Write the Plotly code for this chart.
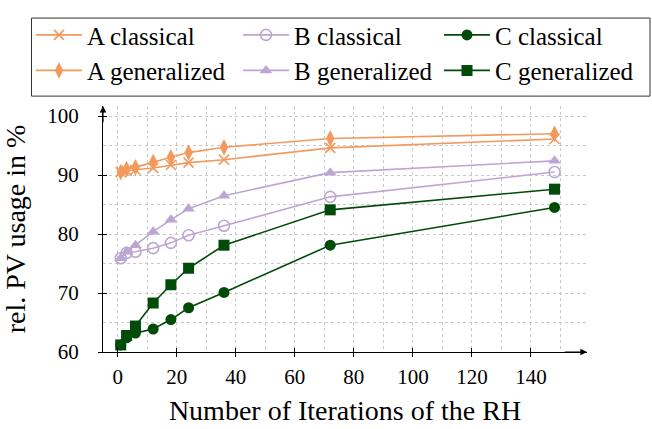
import plotly.graph_objects as go

# Receding-horizon iteration counts
iterations = [1, 3, 6, 12, 18, 24, 36, 72, 148]

# Relative PV usage in % per scenario and method
a_classical = [90.5, 90.7, 90.9, 91.2, 91.7, 92.1, 92.6, 94.6, 96.1]
a_generalized = [90.5, 91.0, 91.3, 92.2, 93.0, 93.8, 94.7, 96.2, 97.0]
b_classical = [75.9, 76.8, 77.0, 77.6, 78.5, 79.8, 81.4, 86.3, 90.5]
b_generalized = [75.9, 77.0, 78.1, 80.4, 82.4, 84.3, 86.5, 90.4, 92.4]
c_classical = [61.2, 62.4, 63.2, 63.9, 65.5, 67.5, 70.1, 78.1, 84.5]
c_generalized = [61.2, 62.8, 64.4, 68.3, 71.4, 74.2, 78.1, 84.1, 87.6]

x_ticks = [0, 20, 40, 60, 80, 100, 120, 140]
y_ticks = [60, 70, 80, 90, 100]

ORANGE = "#F29A5E"
PURPLE = "#BDA6D1"
GREEN = "#004B08"
FONT = "Liberation Serif"

W, H = 652, 429
M_L, M_R, M_T, M_B = 103, 65, 103, 77
PLOT_W, PLOT_H = W - M_L - M_R, H - M_T - M_B

# one legend column per scenario: (name, values, colour, marker, legend id)
series = [
    ("A classical", a_classical, ORANGE, dict(symbol="x-thin-open", size=10, line=dict(width=1.6, color=ORANGE)), "legend"),
    ("A generalized", a_generalized, ORANGE, dict(symbol="diamond-tall", size=12, color=ORANGE), "legend"),
    ("B classical", b_classical, PURPLE, dict(symbol="circle-open", size=11, line=dict(width=1.6, color=PURPLE)), "legend2"),
    ("B generalized", b_generalized, PURPLE, dict(symbol="triangle-up", size=11, color=PURPLE), "legend2"),
    ("C classical", c_classical, GREEN, dict(symbol="circle", size=11, color=GREEN), "legend3"),
    ("C generalized", c_generalized, GREEN, dict(symbol="square", size=11, color=GREEN), "legend3"),
]

fig = go.Figure()
for name, vals, color, marker, leg in series:
    fig.add_trace(go.Scatter(
        x=iterations, y=vals, name=name, mode="lines+markers",
        line=dict(color=color, width=1.6), marker=marker, legend=leg,
    ))

x_range = [-5, 159]
y_range = [60, 101.7]
grid = dict(showgrid=True, gridcolor="#C8C8C8", griddash="dot", gridwidth=1)


def px_to_paper_x(px):
    return (px - M_L) / PLOT_W


def px_to_paper_y(py):
    return (H - M_B - py) / PLOT_H


def legend_column(x_px):
    return dict(
        orientation="v", xref="paper", yref="paper",
        x=px_to_paper_x(x_px), y=px_to_paper_y(8), xanchor="left", yanchor="top",
        borderwidth=0, bgcolor="rgba(0,0,0,0)",
        font=dict(family=FONT, size=25, color="black"),
        itemwidth=46, tracegroupgap=0, traceorder="normal",
    )


fig.update_layout(
    width=W, height=H,
    margin=dict(l=M_L, r=M_R, t=M_T, b=M_B),
    paper_bgcolor="white", plot_bgcolor="white",
    font=dict(family=FONT, size=23, color="black"),
    showlegend=True,
    legend=legend_column(31),
    legend2=legend_column(238),
    legend3=legend_column(439),
    xaxis=dict(
        range=x_range, tickvals=x_ticks, zeroline=False,
        showline=True, linecolor="black", linewidth=1.2,
        ticks="outside", ticklen=4, tickwidth=1.2, tickcolor="black",
        ticklabelstandoff=2, tickfont=dict(size=21),
        minor=dict(dtick=10, tick0=0, showgrid=True, gridcolor="#C8C8C8", griddash="dot"),
        title=dict(text="Number of Iterations of the RH", standoff=12),
        automargin=False, **grid,
    ),
    yaxis=dict(
        range=y_range, tickvals=y_ticks, zeroline=False,
        showline=True, linecolor="black", linewidth=1.2,
        ticks="outside", ticklen=4, tickwidth=1.2, tickcolor="black",
        ticklabelstandoff=15, tickfont=dict(size=21),
        minor=dict(dtick=5, tick0=60, showgrid=True, gridcolor="#C8C8C8", griddash="dot"),
        title=dict(text="rel. PV usage in %", standoff=13),
        automargin=False, **grid,
    ),
    # overlay axes supply the inner half of the crossing tick marks
    xaxis2=dict(range=x_range, tickvals=x_ticks, overlaying="x", anchor="y",
                ticks="inside", ticklen=4, tickwidth=1.2, tickcolor="black",
                showticklabels=False, showgrid=False, zeroline=False, showline=False),
    yaxis2=dict(range=y_range, tickvals=y_ticks, overlaying="y", anchor="x",
                ticks="inside", ticklen=4, tickwidth=1.2, tickcolor="black",
                showticklabels=False, showgrid=False, zeroline=False, showline=False),
)

# frame around the three legend columns
fig.add_shape(type="rect", xref="paper", yref="paper",
              x0=px_to_paper_x(31.5), x1=px_to_paper_x(650),
              y0=px_to_paper_y(93), y1=px_to_paper_y(14),
              line=dict(color="#333333", width=1), fillcolor="rgba(0,0,0,0)")

# dummy trace so the overlay axes are drawn
fig.add_trace(go.Scatter(x=[None], y=[None], xaxis="x2", yaxis="y2",
                         showlegend=False, hoverinfo="skip"))

# arrow tips on both axes
fig.add_annotation(x=x_range[1], y=y_range[0], ax=x_range[1] - 8, ay=y_range[0],
                   xref="x", yref="y", axref="x", ayref="y", text="",
                   showarrow=True, arrowhead=2, arrowsize=1.1, arrowwidth=1.2,
                   arrowcolor="black")
fig.add_annotation(x=x_range[0], y=y_range[1], ax=x_range[0], ay=y_range[1] - 3,
                   xref="x", yref="y", axref="x", ayref="y", text="",
                   showarrow=True, arrowhead=2, arrowsize=1.1, arrowwidth=1.2,
                   arrowcolor="black")

fig.write_html("out.html")
